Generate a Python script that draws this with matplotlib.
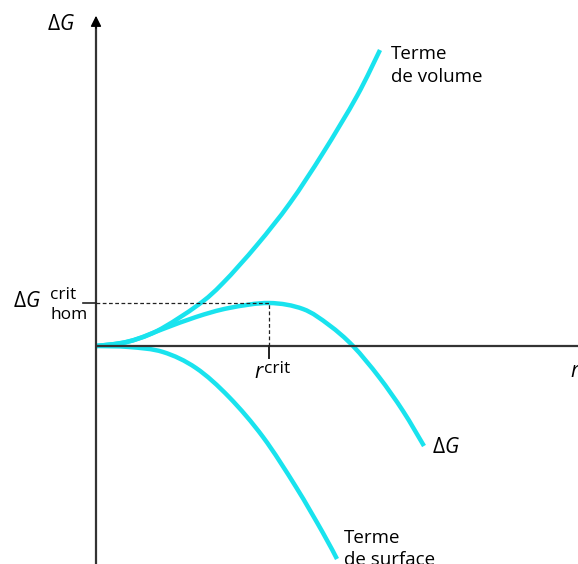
import matplotlib

matplotlib.use('Agg')
import matplotlib.pyplot as plt
import numpy as np
from matplotlib.path import Path
from matplotlib.patches import PathPatch

plt.rcParams['font.family'] = ['Open Sans', 'DejaVu Sans']
plt.rcParams['font.weight'] = 'medium'
plt.rcParams['mathtext.fontset'] = 'custom'
plt.rcParams['mathtext.rm'] = 'Open Sans'
plt.rcParams['mathtext.it'] = 'Open Sans:italic'

# points (arbitrary units, origin at the axes crossing)
r_volume = [0.0, 0.3, 0.61, 1.02, 1.27, 1.61, 1.94, 2.27, 2.61, 2.84]
g_volume = [0.0, 0.04, 0.15, 0.41, 0.63, 1.01, 1.43, 1.93, 2.5, 2.96]

r_dg = [0.0, 0.33, 0.67, 1.0, 1.33, 1.73, 2.07, 2.33, 2.57, 2.83, 3.07, 3.28]
g_dg = [0.0, 0.045, 0.17, 0.29, 0.38, 0.43, 0.37, 0.21, 0.0, -0.31, -0.65, -1.0]

r_surface = [0.0, 0.33, 0.67, 1.0, 1.33, 1.67, 2.0, 2.27, 2.41]
g_surface = [0.0, -0.01, -0.06, -0.22, -0.51, -0.91, -1.41, -1.87, -2.13]

r_crit = 1.73
dg_crit = 0.43

cyan = '#19e3ee'


def smooth_curve(xs, ys):
    """Courbe de Bezier passant par les points lus (Catmull-Rom)."""
    p = np.column_stack([xs, ys])
    n = len(p)
    verts = [p[0]]
    codes = [Path.MOVETO]
    for i in range(n - 1):
        p0 = p[max(i - 1, 0)]
        p1 = p[i]
        p2 = p[i + 1]
        p3 = p[min(i + 2, n - 1)]
        verts += [p1 + (p2 - p0) / 6, p2 - (p3 - p1) / 6, p2]
        codes += [Path.CURVE4] * 3
    return Path(verts, codes)


fig = plt.figure(figsize=(5.78, 5.64), dpi=100)
ax = fig.add_axes([0, 0, 1, 1])
ax.set_xlim(-0.96, 4.82)
ax.set_ylim(-2.18, 3.46)
ax.axis('off')

# axes with arrows
ax.plot([0, 0], [-2.18, 3.2], color='#333333', lw=1.6, solid_capstyle='butt')
ax.plot([0, 4.82], [0, 0], color='#333333', lw=1.6, solid_capstyle='butt')
ax.annotate('', xy=(0, 3.33), xytext=(0, 3.15),
            arrowprops=dict(arrowstyle='-|>', color='black', lw=1, mutation_scale=16))
ax.annotate('', xy=(4.88, 0), xytext=(4.7, 0),
            arrowprops=dict(arrowstyle='-|>', color='black', lw=1, mutation_scale=16))

# critical point guides
ax.plot([0, r_crit], [dg_crit, dg_crit], color='#222222', lw=0.9, ls=(0, (3, 2)))
ax.plot([r_crit, r_crit], [0, dg_crit], color='#222222', lw=0.9, ls=(0, (3, 2)))
ax.plot([-0.13, 0], [dg_crit, dg_crit], color='#222222', lw=1.2)
ax.plot([r_crit, r_crit], [0, -0.12], color='#222222', lw=1.4)

# curves
for r, g in [(r_volume, g_volume), (r_dg, g_dg), (r_surface, g_surface)]:
    ax.add_patch(PathPatch(smooth_curve(r, g), fill=False, edgecolor=cyan,
                           lw=3.2, capstyle='butt'))

# labels
ax.text(-0.49, 3.16, r'$\Delta G$', fontsize=15, ha='left', va='baseline')
ax.text(-0.83, 0.39, r'$\Delta G$', fontsize=15, ha='left', va='baseline')
ax.text(-0.46, 0.47, 'crit', fontsize=12.5, ha='left', va='baseline')
ax.text(-0.46, 0.27, 'hom', fontsize=12.5, ha='left', va='baseline')
ax.text(1.58, -0.32, r'$r$', fontsize=15, ha='left', va='baseline')
ax.text(1.68, -0.27, 'crit', fontsize=12.5, ha='left', va='baseline')
ax.text(4.74, -0.31, r'$r$', fontsize=15, ha='left', va='baseline')
ax.text(2.95, 2.87, 'Terme', fontsize=13.5, ha='left', va='baseline')
ax.text(2.95, 2.64, 'de volume', fontsize=13.5, ha='left', va='baseline')
ax.text(3.36, -1.07, r'$\Delta G$', fontsize=15, ha='left', va='baseline')
ax.text(2.48, -1.97, 'Terme', fontsize=13.5, ha='left', va='baseline')
ax.text(2.48, -2.19, 'de surface', fontsize=13.5, ha='left', va='baseline')

fig.savefig('out.png', dpi=100)
